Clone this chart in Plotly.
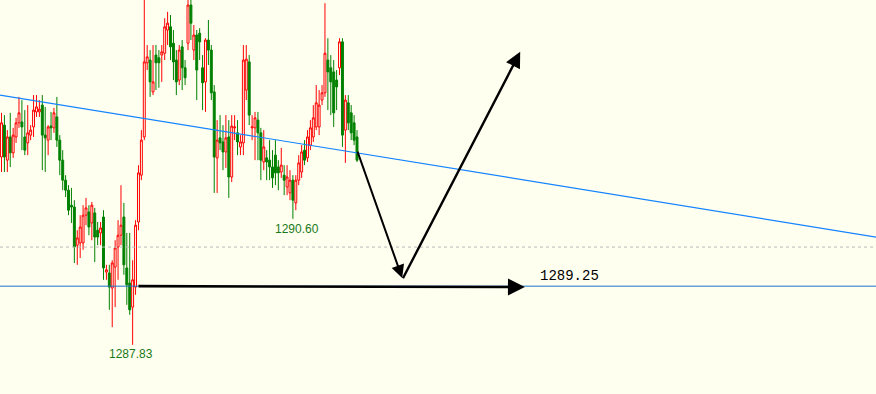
import plotly.graph_objects as go

# ---- data (prices) ----
opens = [1291.96,1292.66,1291.89,1292.40,1292.05,1292.40,1292.71,1292.73,1292.40,1292.27,
         1292.44,1292.62,1292.95,1292.95,1293.10,1292.44,1292.33,1292.64,1292.60,1292.84,
         1292.33,1291.89,1291.45,1291.23,1290.90,1290.86,1290.02,1290.07,1290.07,1290.68,
         1290.75,1290.51,1290.73,1290.35,1290.29,1290.64,1289.43,1289.41,1289.08,1289.54,
         1289.98,1290.24,1290.64,1289.52,1289.19,1288.66,1289.10,1290.53,1291.56,1292.40,
         1294.03,1294.09,1293.39,1294.20,1294.14,1294.20,1294.24,1294.75,1294.82,1294.46,
         1294.09,1293.65,1294.38,1293.92,1294.46,1295.30,1294.31,1294.64,1294.68,1293.92,
         1293.61,1294.53,1294.31,1293.39,1291.94,1292.38,1292.29,1292.07,1292.40,1291.52,
         1292.60,1292.49,1292.18,1292.27,1293.43,1294.05,1292.60,1292.60,1292.77,1292.49,
         1291.85,1291.94,1291.89,1291.74,1292.00,1291.74,1291.63,1291.56,1291.30,1291.17,
         1291.45,1290.95,1291.45,1291.63,1292.11,1291.94,1292.22,1292.40,1292.62,1292.62,
         1293.21,1293.37,1294.09,1293.92,1293.83,1293.65,1293.92,1294.49,1292.55,1293.15,
         1292.93,1292.71,1292.40]
closes = [1292.71,1291.96,1292.40,1292.05,1292.44,1292.71,1292.93,1292.62,1292.11,1292.49,
          1292.55,1292.99,1293.06,1293.01,1292.44,1292.38,1292.62,1292.60,1292.93,1292.33,
          1291.89,1291.45,1291.23,1290.79,1290.86,1289.98,1290.18,1290.42,1290.68,1290.84,
          1290.42,1290.90,1290.20,1290.20,1290.40,1289.52,1289.48,1289.10,1289.63,1289.96,
          1290.24,1290.46,1289.59,1289.15,1288.60,1289.26,1290.46,1291.61,1292.33,1294.05,
          1294.16,1293.61,1293.61,1294.03,1294.03,1294.27,1294.82,1294.90,1294.38,1294.05,
          1293.61,1294.31,1293.92,1293.70,1295.30,1294.90,1294.64,1293.87,1294.49,1293.59,
          1294.53,1294.31,1293.37,1291.96,1292.33,1292.27,1292.07,1292.38,1291.52,1292.64,
          1292.62,1292.29,1292.29,1294.09,1294.11,1292.88,1292.62,1292.82,1292.49,1291.89,
          1292.18,1291.85,1291.74,1291.50,1291.61,1291.61,1291.78,1291.45,1291.52,1291.45,
          1291.01,1291.45,1291.83,1292.07,1291.89,1292.40,1292.60,1292.82,1293.15,1293.10,
          1293.37,1294.24,1293.83,1293.61,1292.93,1293.50,1294.49,1292.44,1293.21,1292.71,
          1292.49,1292.33,1291.89]
highs = [1292.93,1292.88,1292.55,1292.93,1292.60,1292.82,1293.28,1293.21,1292.99,1293.10,
         1292.66,1293.32,1293.32,1293.21,1293.32,1293.06,1292.66,1292.95,1293.04,1293.28,
         1292.44,1292.11,1291.56,1291.34,1291.28,1291.01,1290.35,1290.68,1290.90,1291.06,
         1290.90,1290.97,1290.84,1290.53,1290.53,1290.79,1289.59,1289.59,1289.69,1290.13,
         1290.57,1291.34,1290.95,1290.29,1290.29,1289.69,1290.57,1291.78,1292.55,1295.63,
         1294.42,1294.31,1294.42,1294.42,1294.31,1294.42,1295.01,1295.15,1295.08,1294.75,
         1294.31,1294.42,1294.53,1294.09,1295.63,1295.63,1294.86,1294.75,1294.79,1294.20,
         1294.57,1294.97,1294.42,1293.54,1292.77,1292.88,1292.66,1292.88,1292.77,1292.88,
         1292.88,1292.77,1292.44,1294.42,1294.42,1294.20,1292.88,1292.95,1292.95,1292.60,
         1292.55,1292.11,1292.33,1292.11,1292.33,1291.89,1292.16,1291.78,1291.78,1291.67,
         1291.56,1291.56,1292.00,1292.22,1292.33,1292.55,1292.77,1293.10,1293.54,1293.43,
         1293.54,1295.34,1294.57,1294.20,1294.09,1293.87,1294.57,1294.57,1293.32,1293.32,
         1293.10,1292.88,1292.55]
lows = [1291.63,1291.63,1291.63,1291.74,1291.94,1292.27,1292.60,1292.11,1292.00,1292.00,
        1292.33,1292.40,1292.84,1292.84,1291.67,1291.63,1292.00,1292.33,1292.49,1292.18,
        1291.56,1291.23,1291.08,1290.68,1290.51,1289.63,1289.59,1289.74,1289.92,1290.46,
        1290.24,1290.13,1289.65,1290.02,1290.02,1289.26,1289.26,1288.60,1288.22,1288.66,
        1289.26,1290.02,1289.37,1288.71,1288.49,1287.83,1288.93,1290.35,1291.45,1292.33,
        1293.87,1293.28,1293.32,1293.43,1293.48,1293.61,1294.09,1294.42,1294.09,1293.65,
        1293.32,1293.54,1293.43,1293.54,1294.31,1294.53,1294.09,1293.21,1294.09,1292.99,
        1292.95,1293.98,1293.21,1291.17,1291.17,1292.11,1291.67,1291.72,1291.06,1291.41,
        1292.33,1292.00,1292.00,1292.00,1293.21,1292.66,1292.33,1291.89,1291.89,1291.45,
        1291.67,1291.45,1291.45,1291.28,1291.34,1291.23,1291.50,1291.12,1291.12,1291.01,
        1290.60,1290.79,1291.34,1291.50,1291.78,1291.85,1292.11,1292.29,1292.55,1292.44,
        1293.10,1293.28,1292.99,1292.88,1292.62,1292.99,1293.76,1292.18,1291.83,1292.55,
        1292.33,1292.22,1291.85]
bars = list(range(len(opens)))

# trend line and levels
trend_bars = [-0.515, 300.1]
trend_prices = [1293.32, 1290.20]
support_level = 1289.12
dotted_level = 1289.98

# labels: (bar, price, text)
low_labels = [(44.5, 1287.64, "1287.83"), (101.5, 1290.37, "1290.60")]
level_label = (184.2, 1289.35, "1289.25")

# projected path arrows: (tail bar, tail price, head bar, head price, width)
arrows = [
    (46.5, 1289.12, 179.6, 1289.10, 2.6),
    (122.0, 1292.11, 137.5, 1289.30, 2.0),
    (137.5, 1289.26, 178.0, 1294.27, 2.4),
]

BG = "#FFFFF0"

fig = go.Figure()
fig.add_trace(go.Candlestick(
    x=bars, open=opens, high=highs, low=lows, close=closes,
    increasing=dict(line=dict(color="#FF0000", width=1), fillcolor=BG),
    decreasing=dict(line=dict(color="#008000", width=1), fillcolor="#008000"),
    whiskerwidth=0, hoverinfo="skip", showlegend=False,
))

fig.add_trace(go.Scatter(x=trend_bars, y=trend_prices, mode="lines",
                         line=dict(color="#1484FF", width=1.2), hoverinfo="skip",
                         showlegend=False))

fig.add_hline(y=dotted_level, line=dict(color="#BBBBBB", width=1, dash="dot"))
fig.add_hline(y=support_level, line=dict(color="#1F6FC8", width=1))

for (tx, ty, hx, hy, w) in arrows:
    fig.add_annotation(x=hx, y=hy, ax=tx, ay=ty, xref="x", yref="y",
                       axref="x", ayref="y", text="", showarrow=True,
                       arrowhead=2, arrowsize=1.3, arrowwidth=w,
                       arrowcolor="#000000")

for (bx, py, t) in low_labels:
    fig.add_annotation(x=bx, y=py, text=t, showarrow=False,
                       font=dict(family="Liberation Sans, Arial", size=12,
                                 color="#1A7A1A"))

fig.add_annotation(x=level_label[0], y=level_label[1], text=level_label[2],
                   showarrow=False, xanchor="left",
                   font=dict(family="Liberation Mono, Courier New", size=14,
                             color="#000000"))

fig.update_layout(
    width=876, height=394,
    margin=dict(l=0, r=0, t=0, b=0),
    paper_bgcolor=BG, plot_bgcolor=BG,
    boxgap=0.05,
    xaxis=dict(range=[-0.515, 300.1], visible=False, rangeslider=dict(visible=False),
               fixedrange=True),
    yaxis=dict(range=[1286.75, 1295.41], visible=False, fixedrange=True),
    hovermode=False,
)

fig.write_html("out.html", config={"displayModeBar": False},
               post_script="document.body.style.margin='0';document.body.style.overflow='hidden';")
